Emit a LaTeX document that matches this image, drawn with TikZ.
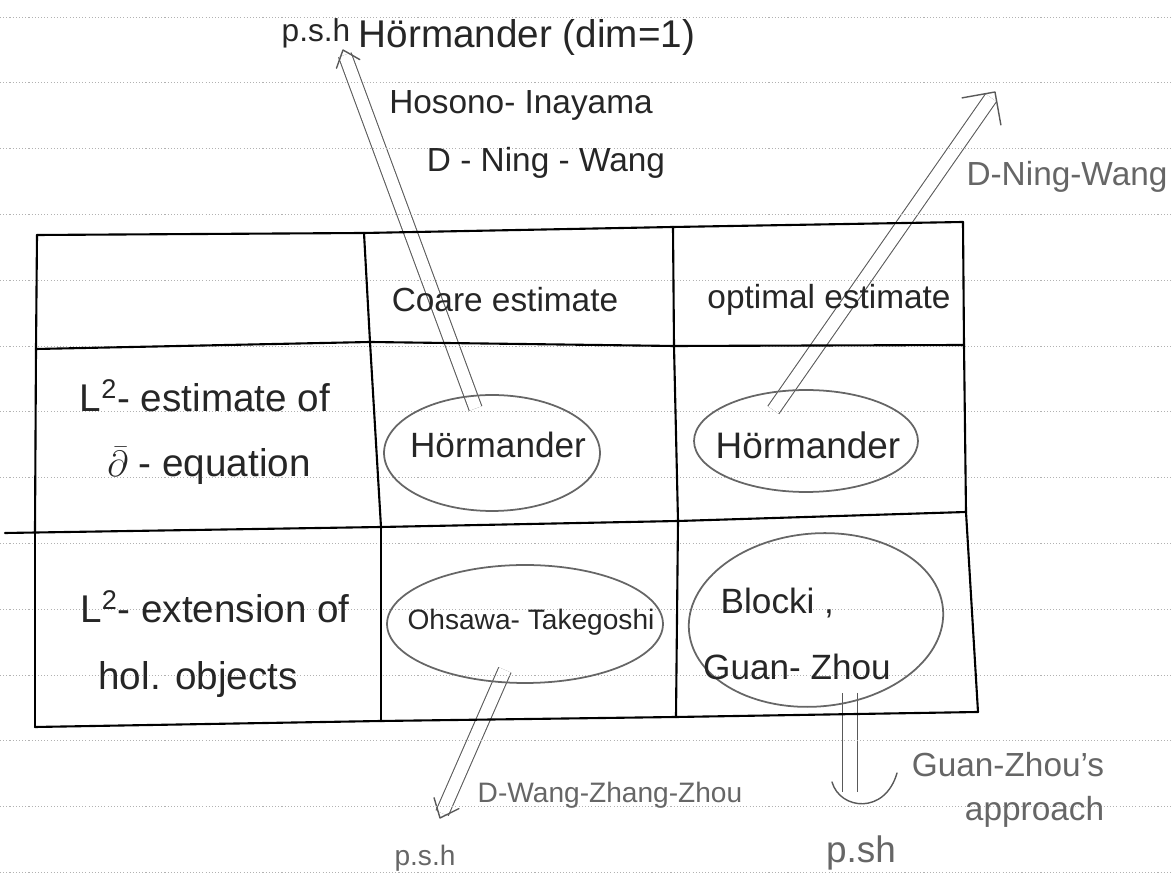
\documentclass[tikz,border=0pt]{standalone}
\usepackage{tikz}
\usepackage{tkz-euclide}
\usepackage{fontspec}
\setmainfont{Liberation Sans}
\usetikzlibrary{shapes.geometric,backgrounds,calc}

\tikzset{
  hand/.style={font=\fontsize{#1}{#1}\selectfont,text=black!85},
  pencil/.style={hand=#1,text=black!60},
  oval/.style={ellipse,draw=black!60,line width=1pt,inner sep=0pt},
  dbl/.style={draw=black!65,line width=0.6pt,double=white,double distance=7pt},
  barb/.style={black!65,line width=0.8pt,line cap=round,line join=round},
  ruled/.style={black!30,line width=0.5pt,dash pattern=on 0.6pt off 1.2pt}
}

\begin{document}
\begin{tikzpicture}[x=0.02cm,y=-0.02cm]
    \useasboundingbox (0,0) rectangle (1171,884);
    \tkzDefPoints{37/235/A,364/233/B,673/227/C,963/222/D,%
      36/349/E,370/342/F,674/346/G,964/345/H,%
      35/531/Q,5/533/I,381/527/J,678/521/K,966/512/L,%
      35/727/M,381/721/N,676/717/O,978/712/P}
    \tkzDrawSegments[line width=1.2pt,line cap=round](A,B B,C C,D E,F F,G G,H I,J J,K K,L M,N N,O O,P A,E E,Q Q,M B,F F,J J,N C,G G,K K,O D,H H,L L,P)
    \node[hand=18] (pshA) at (316,33) {p.s.h};
    \node[hand=22] (hdim) at (527,38) {Hörmander (dim=1)};
    \node[hand=19] (hosono) at (521,105) {Hosono- Inayama};
    \node[hand=19] (dnwA) at (546,163) {D - Ning - Wang};
    \node[pencil=19] (dnwB) at (1067,177) {D-Ning-Wang};
    \node[hand=19] (coarse) at (505,300) {Coare estimate};
    \node[hand=19] (optimal) at (829,300) {optimal estimate};
    \node[hand=22] (estA) at (205,396) {L\textsuperscript{2}- estimate of};
    \node[hand=22] (estB) at (209,466) {$\bar\partial$ - equation};
    \node[hand=22] (extA) at (215,607) {L\textsuperscript{2}- extension of};
    \node[hand=22] (extB) at (198,680) {hol. objects};
    \node[oval,minimum width=4.32cm,minimum height=2.32cm] (hor1) at (492,453) {};
    \node[hand=20] (hor1t) at (498,445) {Hörmander};
    \node[oval,minimum width=4.48cm,minimum height=2.04cm] (hor2) at (806,441) {};
    \node[hand=21] (hor2t) at (808,445) {Hörmander};
    \node[oval,minimum width=5.52cm,minimum height=2.36cm] (ot) at (525,624) {};
    \node[hand=16] (ott) at (531,622) {Ohsawa- Takegoshi};
    \node[oval,minimum width=5.1cm,minimum height=3.46cm,rotate=5] (bgz) at (816,620) {};
    \node[hand=20,align=left] (bgzt) at (797,634) {\hspace*{0.35cm}Blocki ,\\[18pt]Guan- Zhou};
    \node[pencil=16] (dwzz) at (610,795) {D-Wang-Zhang-Zhou};
    \node[pencil=16] (pshC) at (425,858) {p.s.h};
    \node[pencil=19,align=right] (gza) at (1008,790) {Guan-Zhou's\\[6pt]approach};
    \node[pencil=21] (pshD) at (861,853) {p.sh};
    \coordinate (tipA) at (343,50);
    \coordinate (tipB) at (995,92);
    \coordinate (tipC) at (440,818);
    \coordinate (gzend) at (850,792);
    \begin{scope}[on background layer]
      \draw[dbl,shorten <=-8pt,shorten >=3pt] (hor1) -- (tipA);
      \draw[dbl,shorten <=-14pt,shorten >=4pt] (hor2.110) -- (tipB);
      \draw[dbl,shorten <=-8pt,shorten >=3pt] (ot) -- (tipC);
      \draw[dbl,double distance=8pt,shorten <=-8pt] (bgz.south -| gzend) -- (gzend);
      \draw[barb] ($(tipA)!11pt!-40:(hor1)$) -- (tipA) -- ($(tipA)!11pt!40:(hor1)$);
      \draw[barb] ($(tipB)!19pt!-45:(hor2.110)$) -- (tipB) -- ($(tipB)!19pt!45:(hor2.110)$);
      \draw[barb] ($(tipC)!12pt!-40:(ot)$) -- (tipC) -- ($(tipC)!12pt!40:(ot)$);
      \draw[barb] (832,782) .. controls (840,810) and (885,815) .. (897,773);
      \foreach \k in {0,...,13}
        \draw[ruled] (0,17+65.8*\k) -- (1171,17+65.8*\k);
    \end{scope}
\end{tikzpicture}
\end{document}
